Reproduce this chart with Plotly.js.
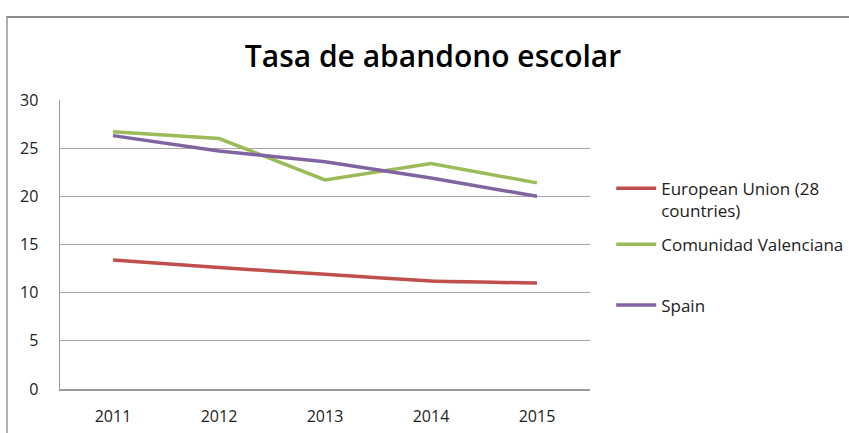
<!DOCTYPE html>
<html>
<head>
<meta charset="utf-8">
<script src="https://cdn.plot.ly/plotly-3.0.1.min.js"></script>
<style>
  html, body { margin: 0; padding: 0; background: #fff; }
  #wrap { position: relative; width: 849px; height: 433px; overflow: hidden; }
  #chart { position: absolute; left: 0; top: 0; width: 849px; height: 433px; }
  #frame { position: absolute; left: 6px; top: 16px; width: 860px; height: 440px;
           border-top: 2px solid #8a8a8a; border-left: 2px solid #b0b0b0; pointer-events: none; }
</style>
</head>
<body>
<div id="wrap">
  <div id="chart"></div>
  <div id="frame"></div>
</div>
<script>
const years = ['2011', '2012', '2013', '2014', '2015'];
const euValues = [13.4, 12.6, 11.9, 11.2, 11.0];
const valenciaValues = [26.7, 26.0, 21.7, 23.4, 21.4];
const spainValues = [26.3, 24.7, 23.6, 21.9, 20.0];
const seriesNames = ['European Union (28<br>countries)', 'Comunidad Valenciana', 'Spain'];
const yTicks = [0, 5, 10, 15, 20, 25, 30];

const traces = [
  { x: years, y: euValues, name: seriesNames[0], type: 'scatter', mode: 'lines',
    line: { color: '#C0504D', width: 3.5, shape: 'spline', smoothing: 0.4 }, legend: 'legend' },
  { x: years, y: valenciaValues, name: seriesNames[1], type: 'scatter', mode: 'lines',
    line: { color: '#9BBB59', width: 3.5 }, legend: 'legend2' },
  { x: years, y: spainValues, name: seriesNames[2], type: 'scatter', mode: 'lines',
    line: { color: '#8064A2', width: 3.5 }, legend: 'legend3' }
];

function legendAt(yPaper) {
  return { x: 1.04, xanchor: 'left', xref: 'paper', y: yPaper, yanchor: 'top',
           font: { family: 'Open Sans, sans-serif', size: 17, color: '#222' },
           bgcolor: 'rgba(0,0,0,0)', itemwidth: 40, valign: 'top' };
}

const layout = {
  width: 849, height: 433,
  margin: { l: 60, r: 259, t: 100, b: 44, pad: 0, autoexpand: false },
  paper_bgcolor: '#fff', plot_bgcolor: '#fff',
  font: { family: 'Open Sans, Liberation Sans, sans-serif', size: 16, color: '#222' },
  title: { text: 'Tasa de abandono escolar', x: 0.51, xanchor: 'center', y: 0.87, yanchor: 'middle',
           font: { family: 'Open Sans, sans-serif', size: 30, color: '#000', weight: 600 } },
  xaxis: { type: 'category', range: [-0.5, 4.5], showgrid: false, showline: true,
           linecolor: '#9a9a9a', linewidth: 1.5, ticks: '', ticklabelstandoff: 12,
           tickfont: { size: 16, color: '#222' }, fixedrange: true, zeroline: false },
  yaxis: { range: [0, 30], tickvals: yTicks, ticktext: yTicks.map(String), showgrid: true,
           gridcolor: '#a8a8a8', gridwidth: 1.3, showline: true, linecolor: '#9a9a9a', linewidth: 1.5,
           ticks: '', ticklabelstandoff: 17, tickfont: { size: 16, color: '#222' }, zeroline: false,
           fixedrange: true },
  showlegend: true,
  legend: legendAt(0.755),
  legend2: legendAt(0.562),
  legend3: legendAt(0.351)
};

Plotly.newPlot('chart', traces, layout, { staticPlot: true, displayModeBar: false });
</script>
</body>
</html>
